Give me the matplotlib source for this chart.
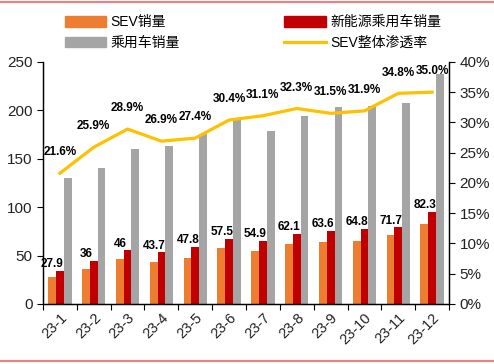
import matplotlib.pyplot as plt
from matplotlib.lines import Line2D
import numpy as np

plt.rcParams["font.family"] = ["Liberation Sans", "Noto Sans CJK SC"]

months = ["23-1", "23-2", "23-3", "23-4", "23-5", "23-6",
          "23-7", "23-8", "23-9", "23-10", "23-11", "23-12"]
sev_sales = [27.9, 36, 46, 43.7, 47.8, 57.5, 54.9, 62.1, 63.6, 64.8, 71.7, 82.3]
nev_sales = [34, 44.7, 55.5, 53.4, 58.9, 67.5, 65.1, 72.7, 75.4, 77.5, 79.2, 95.4]
pv_sales = [130, 140, 160, 163.6, 175, 190, 178.4, 193.6, 203, 204.5, 207.6, 237]
sev_rate = [21.6, 25.9, 28.9, 26.9, 27.4, 30.4, 31.1, 32.3, 31.5, 31.9, 34.8, 35.0]

c_sev = "#ED7D31"
c_nev = "#C00000"
c_pv = "#A5A5A5"
c_line = "#FFC000"

fig = plt.figure(figsize=(4.94, 3.64), dpi=100)
ax = fig.add_axes([0.087, 0.165, 0.822, 0.665])
ax2 = ax.twinx()

x = np.arange(len(months))
w = 0.23
ax.bar(x - w, sev_sales, w, color=c_sev, zorder=2)
ax.bar(x, nev_sales, w, color=c_nev, zorder=2)
ax.bar(x + w, pv_sales, w, color=c_pv, zorder=2)

for xi, s, n in zip(x, sev_sales, nev_sales):
    ax.annotate(f"{s:g}", (xi - 0.22, n), xytext=(0, 0.5), textcoords="offset points",
                ha="center", va="bottom", fontsize=8.5, fontweight="bold", color="black")

rate = np.array(sev_rate) / 100
ax2.plot(x, rate, color=c_line, lw=2.3, zorder=3)
for xi, r in zip(x, sev_rate):
    ax2.annotate(f"{r:.1f}%", (xi, r / 100), xytext=(0, 15), textcoords="offset points",
                 ha="center", va="center", fontsize=8.5, fontweight="bold", color="black")

ax.set_xlim(-0.5, len(months) - 0.5)
ax.set_ylim(0, 250)
ax.set_yticks(np.arange(0, 251, 50))
ax2.set_ylim(0, 0.40)
ax2.set_yticks(np.arange(0, 0.41, 0.05))
ax2.set_yticklabels([f"{int(round(v * 100))}%" for v in np.arange(0, 0.41, 0.05)])

# category boundary ticks on x, labels at centres
ax.set_xticks(np.arange(-0.5, len(months), 1))
ax.set_xticklabels([])
ax.set_xticks(x, minor=True)
ax.set_xticklabels(months, minor=True, rotation=45, ha="right", rotation_mode="anchor",
                   fontsize=10.5, color="#222222")
ax.tick_params(axis="x", which="minor", length=0, pad=5)
ax.tick_params(axis="x", which="major", length=4, direction="out")
ax.tick_params(axis="y", labelsize=11, length=4, color="black", labelcolor="#222222")
ax2.tick_params(axis="y", labelsize=11, length=4, color="black", labelcolor="#222222")

for a in (ax, ax2):
    a.spines["top"].set_visible(False)
    for s in ("left", "right", "bottom"):
        a.spines[s].set_color("black")
        a.spines[s].set_linewidth(0.9)

handles = [
    plt.Rectangle((0, 0), 1, 1, color=c_sev),
    plt.Rectangle((0, 0), 1, 1, color=c_pv),
    plt.Rectangle((0, 0), 1, 1, color=c_nev),
    Line2D([0], [0], color=c_line, lw=2.3),
]
labels = ["SEV销量", "乘用车销量", "新能源乘用车销量", "SEV整体渗透率"]
fig.legend(handles, labels, ncol=2, loc="center", bbox_to_anchor=(0.512, 0.91),
           frameon=False, fontsize=10, handlelength=3.0, handleheight=0.75,
           columnspacing=7.5, handletextpad=0.3, labelspacing=0.5)

# thin pink rules at top and bottom of the figure
fig.add_artist(Line2D([0, 1], [0.995, 0.995], color="#F08080", lw=1.5, transform=fig.transFigure))
fig.add_artist(Line2D([0, 1], [0.009, 0.009], color="#F08080", lw=1.5, transform=fig.transFigure))

fig.savefig("out.png", dpi=100)
